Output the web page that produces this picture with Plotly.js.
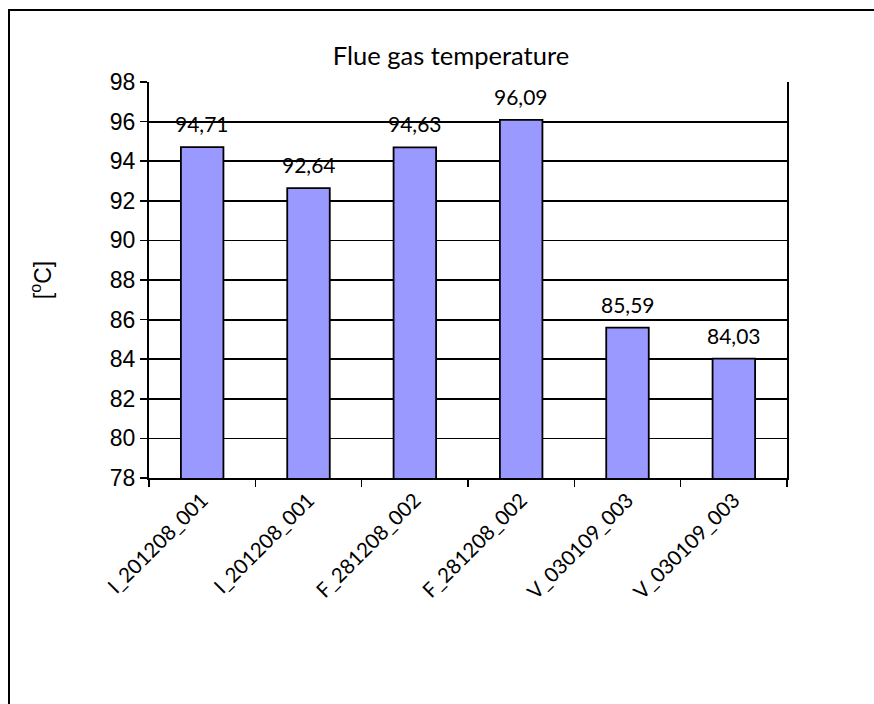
<!DOCTYPE html>
<html>
<head>
<meta charset="utf-8">
<script src="https://cdn.plot.ly/plotly-3.0.1.min.js"></script>
<style>html,body{margin:0;padding:0;background:#fff;}#chart{width:874px;height:704px;}</style>
</head>
<body>
<div id="chart"></div>
<script>
const categories = ["I_201208_001","I_201208_001","F_281208_002","F_281208_002","V_030109_003","V_030109_003"];
const values = [94.71, 92.64, 94.7, 96.09, 85.59, 84.03];
const valueLabels = ["94,71","92,64","94,63","96,09","85,59","84,03"];
const yTicks = [78,80,82,84,86,88,90,92,94,96,98];

const xpos = categories.map((c,i)=>i);

const trace = {
  type: 'bar',
  x: xpos,
  y: values,
  marker: {color: '#9999FF', line: {color: '#000', width: 1.8}},
  width: 0.4,
  hoverinfo: 'none'
};

const L = 149, R = 787, T = 82, B = 478, W = 874, H = 704;
const pw = R - L, ph = B - T;

const annotations = xpos.map((x,i)=>({
  x: x, y: values[i], xref: 'x', yref: 'y',
  text: valueLabels[i], showarrow: false,
  yanchor: 'bottom', yshift: 9,
  font: {family: 'Lato, sans-serif', size: 21, color: '#000'}
}));

const layout = {
  width: W, height: H,
  margin: {l: L, r: W - R, t: T, b: H - B, pad: 0},
  paper_bgcolor: '#fff', plot_bgcolor: '#fff',
  showlegend: false,
  title: {
    text: 'Flue gas temperature',
    font: {family: 'Lato, sans-serif', size: 25.5, color: '#000'},
    xref: 'container', yref: 'container',
    x: 451 / W, y: 1 - 56 / H, xanchor: 'center', yanchor: 'middle'
  },
  xaxis: {
    range: [-0.5, 5.5],
    tickmode: 'array', tickvals: xpos, ticktext: categories,
    tickangle: -45,
    ticks: '',
    tickfont: {family: 'Lato, sans-serif', size: 20.5, color: '#000'},
    showline: true, linecolor: '#000', linewidth: 2.2,
    showgrid: false, zeroline: false,
    minor: {tick0: -0.5, dtick: 1, ticks: 'outside', ticklen: 7, tickwidth: 1.6, tickcolor: '#000', showgrid: false}
  },
  yaxis: {
    range: [78, 98],
    tickmode: 'array', tickvals: yTicks, ticktext: yTicks.map(String),
    ticks: 'outside', ticklen: 7, tickwidth: 1.6, tickcolor: '#000',
    tickfont: {family: 'Liberation Sans, Arial, sans-serif', size: 23, color: '#000'},
    showline: true, linecolor: '#000', linewidth: 2, mirror: true,
    showgrid: true, gridcolor: '#000', gridwidth: 1.8,
    zeroline: false,
    title: {text: '[<sup>o</sup>C]', standoff: 52,
      font: {family: 'Liberation Sans, Arial, sans-serif', size: 23, color: '#000'}}
  },
  annotations: annotations,
  shapes: [{
    type: 'rect', xref: 'paper', yref: 'paper',
    x0: (9 - L) / pw, x1: (900 - L) / pw,
    y0: (B - 730) / ph, y1: (B - 10) / ph,
    line: {color: '#000', width: 2}, fillcolor: 'rgba(0,0,0,0)', layer: 'above'
  }]
};

Plotly.newPlot('chart', [trace], layout, {displayModeBar: false, staticPlot: true});
</script>
</body>
</html>
